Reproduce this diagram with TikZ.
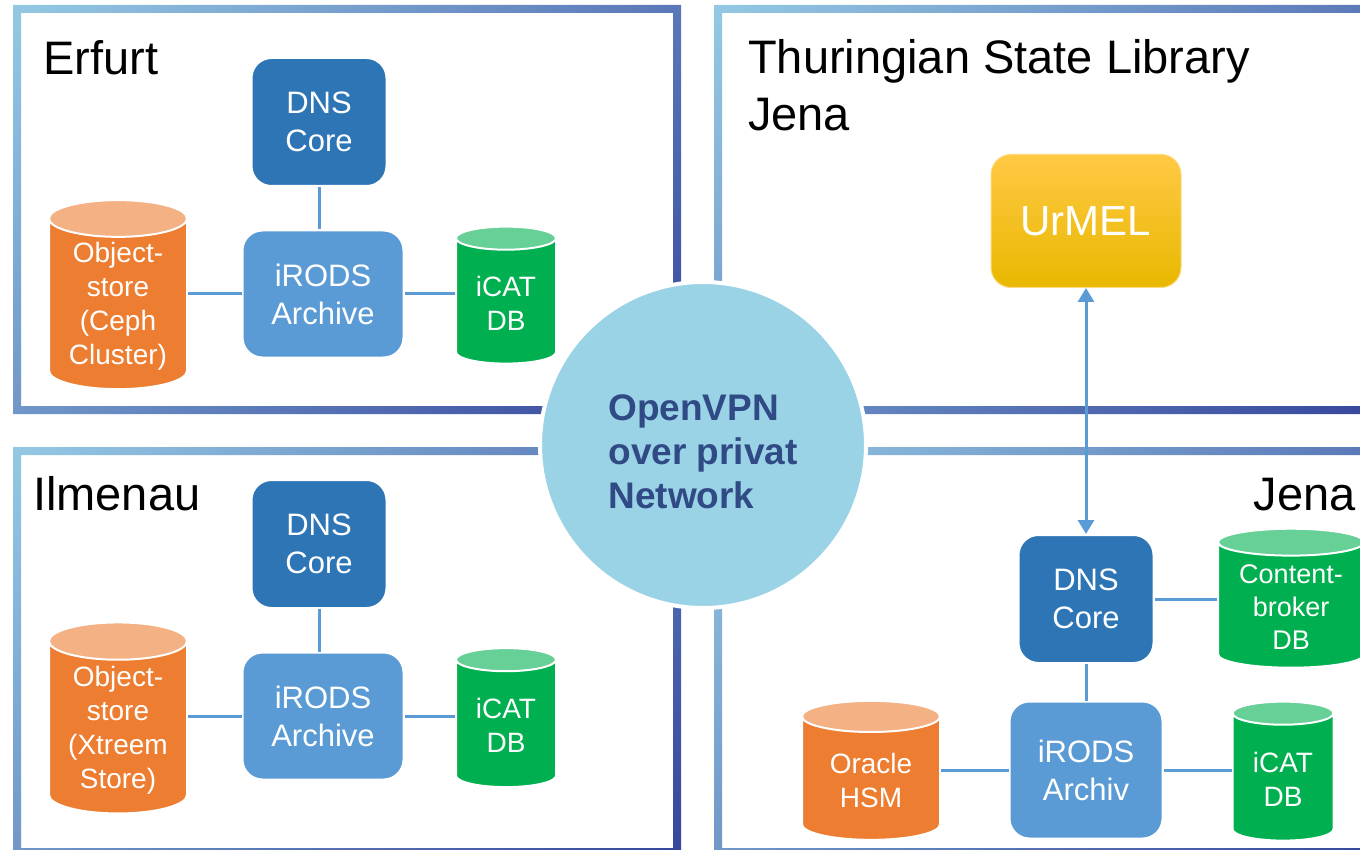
\documentclass[tikz,border=0pt]{standalone}
\usepackage{fontspec}
\setmainfont{Liberation Sans}
\usetikzlibrary{arrows.meta}
\usetikzlibrary{shapes.geometric}
\definecolor{framelight}{HTML}{9CD4EA}
\definecolor{framedark}{HTML}{2E3A96}
\definecolor{dnsblue}{HTML}{2E75B6}
\definecolor{irodsblue}{HTML}{5B9BD5}
\definecolor{storeorange}{HTML}{ED7D31}
\definecolor{storetop}{HTML}{F4B183}
\definecolor{dbgreen}{HTML}{00B050}
\definecolor{dbtop}{HTML}{67D096}
\definecolor{vpnblue}{HTML}{9BD3E6}
\definecolor{vpntext}{HTML}{2F4A85}
\definecolor{urmeltop}{HTML}{FFC945}
\definecolor{urmelbottom}{HTML}{E8B800}
\tikzstyle{dnsbox}=[rectangle, rounded corners=20pt, fill=dnsblue, draw=white, line width=2pt, text=white, align=center, font=\fontsize{31}{38}\selectfont, minimum width=135pt, minimum height=128pt]
\tikzstyle{irodsbox}=[dnsbox, fill=irodsblue, minimum width=161pt, minimum height=127pt]
\tikzstyle{store}=[cylinder, shape border rotate=90, aspect=0.36, draw=white, line width=2pt, inner sep=2pt, cylinder uses custom fill, cylinder body fill=storeorange, cylinder end fill=storetop, text=white, align=center, font=\fontsize{28}{34}\selectfont]
\tikzstyle{db}=[store, cylinder body fill=dbgreen, cylinder end fill=dbtop]
\tikzstyle{sitelabel}=[font=\fontsize{47}{57}\selectfont, inner sep=0pt]
\tikzstyle{link}=[draw=irodsblue, line width=3pt]
% frame round a site, given by the centres of its four sides
\newcommand{\siteframe}[4]{%
  \begin{scope}[even odd rule]
    \clip (#1-4,#2-4) rectangle (#3+4,#4+4) (#1+4,#2+4) rectangle (#3-4,#4-4);
    \shade[top color=framelight, bottom color=framedark, shading angle=45] ({(#1+#3)/2-450},{(#2+#4)/2-450}) rectangle ({(#1+#3)/2+450},{(#2+#4)/2+450});
  \end{scope}}

\begin{document}
\begin{tikzpicture}[x=1pt, y=-1pt]
      \useasboundingbox (0,0) rectangle (1360,850);

      % site frames
      \siteframe{17}{9}{677}{410}
      \siteframe{718}{9}{1380}{410}
      \siteframe{17}{451}{677}{852}
      \siteframe{718}{451}{1380}{852}

      \node[sitelabel, anchor=base west] (erfurt) at (43,75) {Erfurt};
      \node[sitelabel, anchor=base west] (ilmenau) at (33,510) {Ilmenau};
      \node[sitelabel, anchor=base west, align=left] (tsl) at (748,131) {Thuringian State Library\\Jena};
      \node[sitelabel, anchor=base east] (jena) at (1356,510) {Jena};

      % Erfurt
      \node[dnsbox] (dnsE) at (319,122) {DNS\\Core};
      \node[irodsbox] (irodsE) at (323,294) {iRODS\\Archive};
      \node[store, minimum width=138pt, minimum height=189pt] (objE) at (118,306.5) {Object-\\store\\(Ceph\\Cluster)};
      \node[db, minimum width=100pt, minimum height=137pt] (icatE) at (506,303) {iCAT\\DB};

      % Ilmenau
      \node[dnsbox] (dnsI) at (319,544) {DNS\\Core};
      \node[irodsbox] (irodsI) at (323,716) {iRODS\\Archive};
      \node[store, minimum width=138pt, minimum height=191pt] (objI) at (118,730) {Object-\\store\\(Xtreem\\Store)};
      \node[db, minimum width=100pt, minimum height=139pt] (icatI) at (506,725.5) {iCAT\\DB};

      % Thuringian State Library
      \node[rectangle, rounded corners=20pt, top color=urmeltop, bottom color=urmelbottom, draw=urmeltop!70!white, line width=1pt, text=white, font=\fontsize{42}{50}\selectfont, minimum width=190pt, minimum height=133pt] (urmel) at (1086,221) {UrMEL};

      % Jena
      \node[dnsbox] (dnsJ) at (1086,599) {DNS\\Core};
      \node[irodsbox, minimum width=153pt, minimum height=137pt] (irodsJ) at (1086,770) {iRODS\\Archiv};
      \node[db, aspect=0.25, minimum width=146pt, minimum height=139pt, font=\fontsize{27}{33}\selectfont] (cbJ) at (1291,607) {Content-\\broker\\DB};
      \node[store, minimum width=138pt, minimum height=139pt] (oracleJ) at (871,780.5) {Oracle\\HSM};
      \node[db, minimum width=101pt, minimum height=139pt] (icatJ) at (1283,779) {iCAT\\DB};

      \draw[link] (dnsE) -- (dnsE |- irodsE.north);
      \draw[link] (irodsE.west) -- (objE.east |- irodsE.west);
      \draw[link] (irodsE.east) -- (icatE.west |- irodsE.east);
      \draw[link] (dnsI) -- (dnsI |- irodsI.north);
      \draw[link] (irodsI.west) -- (objI.east |- irodsI.west);
      \draw[link] (irodsI.east) -- (icatI.west |- irodsI.east);
      \draw[link] (dnsJ) -- (irodsJ);
      \draw[link] (dnsJ.east) -- (cbJ.west |- dnsJ.east);
      \draw[link] (irodsJ.west) -- (oracleJ.east |- irodsJ.west);
      \draw[link] (irodsJ.east) -- (icatJ.west |- irodsJ.east);
      \draw[link, {Triangle[length=14pt, width=16pt]}-{Triangle[length=14pt, width=16pt]}] (urmel.south) -- (dnsJ.north);

      % network
      \node[circle, fill=vpnblue, draw=white, line width=4pt, minimum size=326pt, text=vpntext, align=left, text height=126pt, text depth=0pt, font=\bfseries\fontsize{37}{44}\selectfont] (vpn) at (703,445) {OpenVPN\\over privat\\Network};

    \end{tikzpicture}
\end{document}
